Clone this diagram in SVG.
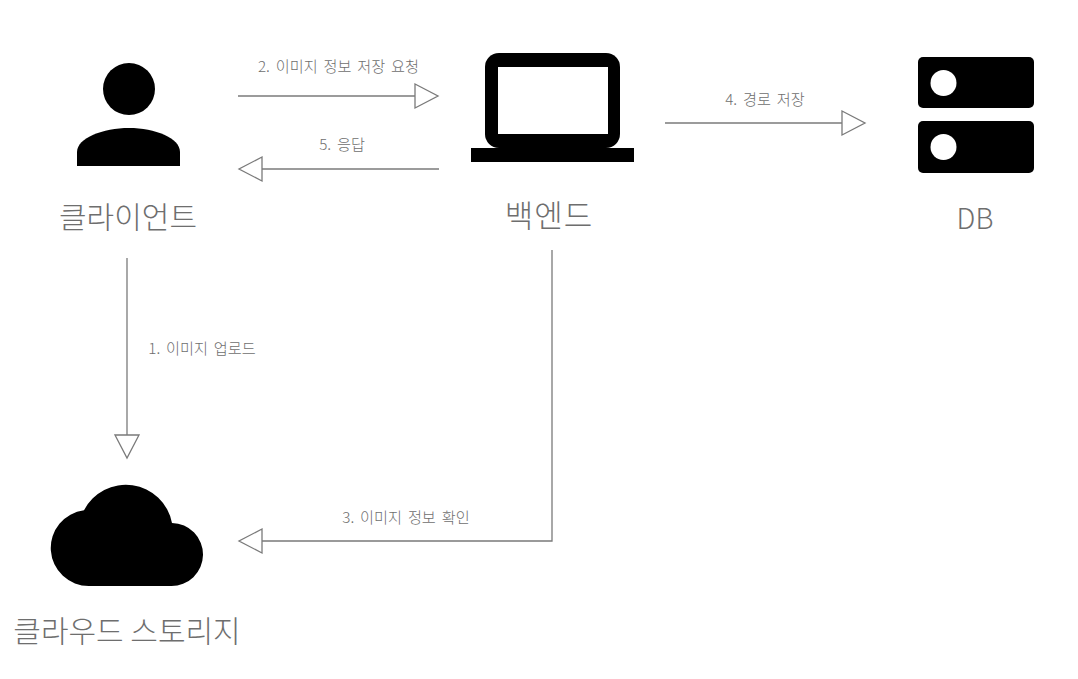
<svg xmlns="http://www.w3.org/2000/svg" width="1078" height="679" viewBox="0 0 1078 679">
<style>
text{font-family:"Noto Sans CJK KR","Noto Sans",sans-serif;fill:#6e6e6e;text-anchor:middle}
.t{font-size:30px;font-weight:300}
.l{font-size:15.200px;font-weight:300;word-spacing:2.500px}
.c{fill:none;stroke:#7a7a7a;stroke-width:1.3}
.h{fill:#fff;stroke:#7a7a7a;stroke-width:1.3}
</style>
<rect width="1078" height="679" fill="#fff"/>
<g id="client">
<circle cx="129" cy="89" r="26"/>
<path d="M77 166V152C77 138 103 128 129 128C155 128 180 138 180 152V166Z"/>
<text class="t" x="128" y="228">클라이언트</text>
</g>
<g id="backend">
<rect x="485" y="53" width="135" height="95" rx="14"/>
<rect x="498" y="67" width="110" height="67" fill="#fff"/>
<rect x="471" y="148" width="163" height="14"/>
<text class="t" x="549" y="227" style="font-size:31px;letter-spacing:1px">백엔드</text>
</g>
<g id="db">
<rect x="918" y="57" width="116" height="51" rx="5"/>
<rect x="918" y="121" width="116" height="52" rx="5"/>
<circle cx="943.500" cy="83" r="13" fill="#fff"/>
<circle cx="943.500" cy="147" r="13" fill="#fff"/>
<text class="t" x="975" y="229" style="font-size:28px">DB</text>
</g>
<g id="storage">
<path d="M89 586A38 38 0 0 1 84 510.300A47 47 0 0 1 172 523A31.500 31.500 0 0 1 171 586Z"/>
<text class="t" x="127" y="642">클라우드 스토리지</text>
</g>
<g id="connectors">
<path class="c" d="M238 96H415"/><path class="h" d="M415 84L438 96L415 108Z"/>
<path class="c" d="M439 169H262"/><path class="h" d="M262 157L239 169L262 181Z"/>
<path class="c" d="M665 123H842"/><path class="h" d="M842 111L865 123L842 135Z"/>
<path class="c" d="M127 258V435"/><path class="h" d="M115 435L127 458L139 435Z"/>
<path class="c" d="M552 250V541H262"/><path class="h" d="M262 529L239 541L262 553Z"/>
<text class="l" x="338.500" y="72">2. 이미지 정보 저장 요청</text>
<text class="l" x="342" y="150">5. 응답</text>
<text class="l" x="765" y="105">4. 경로 저장</text>
<text class="l" x="202" y="354">1. 이미지 업로드</text>
<text class="l" x="406" y="523">3. 이미지 정보 확인</text>
</g>
</svg>
